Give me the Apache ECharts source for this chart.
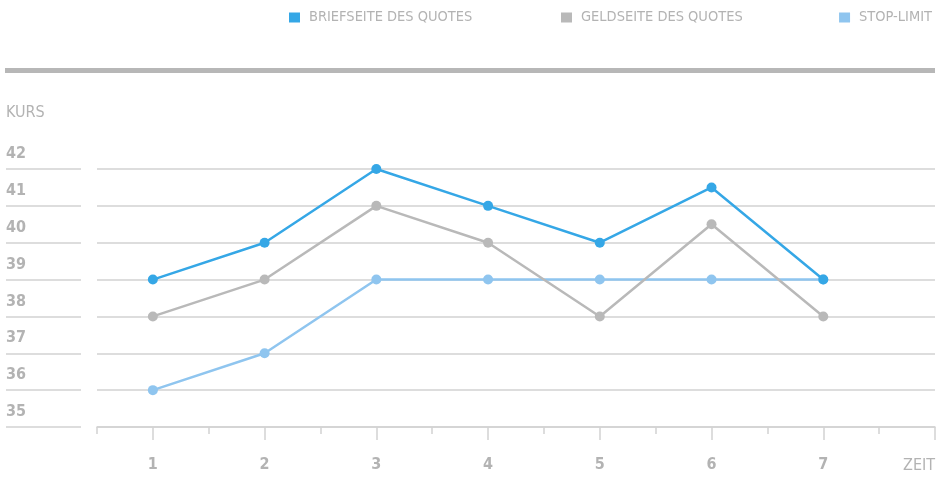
<!DOCTYPE html>
<html>
<head>
<meta charset="utf-8">
<script src="https://cdn.jsdelivr.net/npm/echarts@6.0.0/dist/echarts.min.js"></script>
<style>
  html, body { margin: 0; padding: 0; background: #fff; }
  #chart { width: 947px; height: 499px; }
</style>
</head>
<body>
<div id="chart"></div>
<script>
"use strict";

// Data (x = Zeit, y = Kurs)
const zeit = [1, 2, 3, 4, 5, 6, 7];
const briefseite = [39, 40, 42, 41, 40, 41.5, 39];
const geldseite = [38, 39, 41, 40, 38, 40.5, 38];
const stopLimit = [36, 37, 39, 39, 39, 39, 39];

const seriesNames = ["BRIEFSEITE DES QUOTES", "GELDSEITE DES QUOTES", "STOP-LIMIT"];
const majorTicks = [1, 2, 3, 4, 5, 6, 7, 8];
const minorTicks = [0.5, 1.5, 2.5, 3.5, 4.5, 5.5, 6.5, 7.5];
const xLabels = [1, 2, 3, 4, 5, 6, 7];

const FONT = '"DejaVu Sans Condensed", "Liberation Sans Narrow", Roboto, sans-serif';
const BLUE = "#35a7e6", GREY = "#b9b9b9", LIGHT = "#8fc5ef";
const LINE = "#d2d2d2", TEXT = "#b3b3b3";

const pairs = (ys) => zeit.map((x, i) => [x, ys[i]]);

const lineSeries = (name, ys, color, z) => ({
  name, type: "line", data: pairs(ys), z,
  xAxisIndex: 1, yAxisIndex: 1,
  symbol: "circle", symbolSize: 10,
  lineStyle: { color, width: 2.5 },
  itemStyle: { color },
  emphasis: { disabled: true },
});

// one legend per entry, so each sits where the reference puts it
const legendItem = (name, pos) => ({
  data: [name], ...pos, top: 5,
  icon: "rect", itemWidth: 11, itemHeight: 10,
  textStyle: { color: TEXT, fontSize: 14.5, fontFamily: FONT, padding: [0, 0, 0, 4] },
});

const chart = echarts.init(document.getElementById("chart"), null, { renderer: "canvas" });
chart.setOption({
  animation: false,
  textStyle: { fontFamily: FONT },
  legend: [
    legendItem(seriesNames[0], { left: 284 }),
    legendItem(seriesNames[1], { left: 556 }),
    legendItem(seriesNames[2], { right: 10 }),
  ],
  graphic: [
    { type: "rect", shape: { x: 5, y: 68, width: 930, height: 5 },
      style: { fill: "#b7b7b7" }, silent: true },
  ],
  grid: [
    { left: 6, width: 75, top: 169, bottom: 72 },     // label column
    { left: 97, right: 12, top: 169, bottom: 72 },    // plot
  ],
  xAxis: [
    { gridIndex: 0, type: "value", min: 0, max: 1, show: false },
    { gridIndex: 1, type: "value", min: 0.5, max: 8, position: "bottom",
      name: "ZEIT", nameLocation: "end", nameGap: 0,
      nameTextStyle: { color: TEXT, fontSize: 16, align: "right", verticalAlign: "top",
                       padding: [31, 0, 0, 0] },
      axisLine: { lineStyle: { color: LINE, width: 1.5 } },
      axisTick: { customValues: majorTicks, length: 13, lineStyle: { color: LINE, width: 1.5 } },
      axisLabel: { customValues: xLabels, color: TEXT, fontWeight: "bold", fontSize: 16, margin: 30 },
      splitLine: { show: false } },
    { gridIndex: 1, type: "value", min: 0.5, max: 8, position: "bottom", offset: 0,
      axisLine: { show: false },
      axisTick: { customValues: minorTicks, length: 7, lineStyle: { color: LINE, width: 1.5 } },
      axisLabel: { show: false },
      splitLine: { show: false } },
  ],
  yAxis: [
    { gridIndex: 0, type: "value", min: 35, max: 42, interval: 1,
      name: "KURS", nameLocation: "end", nameGap: 48,
      nameTextStyle: { color: TEXT, fontSize: 16, align: "left" },
      axisLine: { show: false }, axisTick: { show: false },
      axisLabel: { inside: true, margin: 0, color: TEXT, fontWeight: "bold", fontSize: 16,
                   verticalAlign: "bottom", padding: [0, 0, 7, 0] },
      splitLine: { lineStyle: { color: LINE, width: 1.5 } } },
    { gridIndex: 1, type: "value", min: 35, max: 42, interval: 1,
      axisLine: { show: false }, axisTick: { show: false }, axisLabel: { show: false },
      splitLine: { lineStyle: { color: LINE, width: 1.5 } } },
  ],
  series: [
    lineSeries(seriesNames[2], stopLimit, LIGHT, 2),
    lineSeries(seriesNames[1], geldseite, GREY, 3),
    lineSeries(seriesNames[0], briefseite, BLUE, 4),
  ],
});
</script>
</body>
</html>
